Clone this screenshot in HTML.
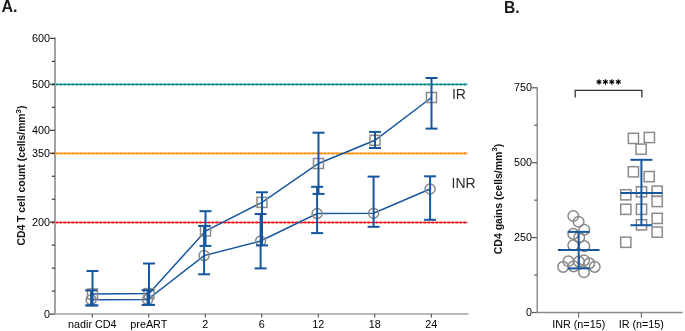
<!DOCTYPE html>
<html><head><meta charset="utf-8"><style>
html,body{margin:0;padding:0;background:#fff;}
svg{display:block;font-family:"Liberation Sans", sans-serif;will-change:transform;}
</style></head><body>
<svg width="685" height="331" viewBox="0 0 685 331">
<rect width="685" height="331" fill="#fff"/>
<text x="1.5" y="11.9" font-size="16.1" font-weight="bold" fill="#1a1a1a">A.</text>
<text x="504" y="12.5" font-size="15.7" font-weight="bold" fill="#1a1a1a">B.</text>
<line x1="52" y1="84.40" x2="467.5" y2="84.40" stroke="#139090" stroke-width="1.2"/>
<line x1="52" y1="84.40" x2="467.5" y2="84.40" stroke="#139090" stroke-width="2" stroke-dasharray="2.6 1.4" stroke-dashoffset="0.5"/>
<line x1="52" y1="153.40" x2="467.5" y2="153.40" stroke="#f7900f" stroke-width="1.2"/>
<line x1="52" y1="153.40" x2="467.5" y2="153.40" stroke="#f7900f" stroke-width="2" stroke-dasharray="2.6 1.4" stroke-dashoffset="0.5"/>
<line x1="52" y1="222.50" x2="467.5" y2="222.50" stroke="#f2191d" stroke-width="1.2"/>
<line x1="52" y1="222.50" x2="467.5" y2="222.50" stroke="#f2191d" stroke-width="2" stroke-dasharray="2.6 1.4" stroke-dashoffset="0.5"/>
<line x1="55" y1="37.6" x2="55" y2="314.8" stroke="#a3a3a3" stroke-width="2"/>
<line x1="50" y1="314.10" x2="55" y2="314.10" stroke="#3a3a3a" stroke-width="1.2"/>
<line x1="51.8" y1="291.12" x2="55" y2="291.12" stroke="#3a3a3a" stroke-width="1.2"/>
<line x1="51.8" y1="268.15" x2="55" y2="268.15" stroke="#3a3a3a" stroke-width="1.2"/>
<line x1="51.8" y1="245.18" x2="55" y2="245.18" stroke="#3a3a3a" stroke-width="1.2"/>
<line x1="50" y1="222.20" x2="55" y2="222.20" stroke="#3a3a3a" stroke-width="1.2"/>
<line x1="51.8" y1="199.23" x2="55" y2="199.23" stroke="#3a3a3a" stroke-width="1.2"/>
<line x1="51.8" y1="176.25" x2="55" y2="176.25" stroke="#3a3a3a" stroke-width="1.2"/>
<line x1="50" y1="153.28" x2="55" y2="153.28" stroke="#3a3a3a" stroke-width="1.2"/>
<line x1="50" y1="130.30" x2="55" y2="130.30" stroke="#3a3a3a" stroke-width="1.2"/>
<line x1="51.8" y1="107.33" x2="55" y2="107.33" stroke="#3a3a3a" stroke-width="1.2"/>
<line x1="50" y1="84.35" x2="55" y2="84.35" stroke="#3a3a3a" stroke-width="1.2"/>
<line x1="51.8" y1="61.38" x2="55" y2="61.38" stroke="#3a3a3a" stroke-width="1.2"/>
<line x1="50" y1="38.40" x2="55" y2="38.40" stroke="#3a3a3a" stroke-width="1.2"/>
<text x="49.9" y="318.00" font-size="10.8" text-anchor="end" fill="#000">0</text>
<text x="49.9" y="226.10" font-size="10.8" text-anchor="end" fill="#000">200</text>
<text x="49.9" y="157.18" font-size="10.8" text-anchor="end" fill="#000">350</text>
<text x="49.9" y="134.20" font-size="10.8" text-anchor="end" fill="#000">400</text>
<text x="49.9" y="88.25" font-size="10.8" text-anchor="end" fill="#000">500</text>
<text x="49.9" y="42.30" font-size="10.8" text-anchor="end" fill="#000">600</text>
<line x1="54" y1="314" x2="468.5" y2="314" stroke="#a3a3a3" stroke-width="1.6"/>
<line x1="92.30" y1="314" x2="92.30" y2="317.5" stroke="#3a3a3a" stroke-width="1"/>
<text x="92.30" y="328" font-size="10.8" text-anchor="middle" fill="#000">nadir CD4</text>
<line x1="148.80" y1="314" x2="148.80" y2="317.5" stroke="#3a3a3a" stroke-width="1"/>
<text x="148.80" y="328" font-size="10.8" text-anchor="middle" fill="#000">preART</text>
<line x1="205.30" y1="314" x2="205.30" y2="317.5" stroke="#3a3a3a" stroke-width="1"/>
<text x="205.30" y="328" font-size="10.8" text-anchor="middle" fill="#000">2</text>
<line x1="261.80" y1="314" x2="261.80" y2="317.5" stroke="#3a3a3a" stroke-width="1"/>
<text x="261.80" y="328" font-size="10.8" text-anchor="middle" fill="#000">6</text>
<line x1="318.30" y1="314" x2="318.30" y2="317.5" stroke="#3a3a3a" stroke-width="1"/>
<text x="318.30" y="328" font-size="10.8" text-anchor="middle" fill="#000">12</text>
<line x1="374.80" y1="314" x2="374.80" y2="317.5" stroke="#3a3a3a" stroke-width="1"/>
<text x="374.80" y="328" font-size="10.8" text-anchor="middle" fill="#000">18</text>
<line x1="431.30" y1="314" x2="431.30" y2="317.5" stroke="#3a3a3a" stroke-width="1"/>
<text x="431.30" y="328" font-size="10.8" text-anchor="middle" fill="#000">24</text>
<text transform="translate(25.3,175.6) rotate(-90)" font-size="10.4" font-weight="bold" text-anchor="middle" fill="#111">CD4 T cell count (cells/mm<tspan dy="-4.2" font-size="7.8">3</tspan><tspan dy="4.2">)</tspan></text>
<polyline points="92.5,294.0 149.0,293.6 205.5,231.0 262.0,202.4 318.5,163.5 375.0,140.3 431.5,97.5" fill="none" stroke="#17569c" stroke-width="1.5"/>
<polyline points="91.1,299.8 147.6,299.5 204.1,255.6 260.6,241.0 317.1,213.6 373.6,213.3 430.1,189.0" fill="none" stroke="#17569c" stroke-width="1.5"/>
<rect x="87.50" y="289.00" width="10" height="10" fill="none" stroke="#8a8a8a" stroke-width="1.5"/>
<rect x="144.00" y="288.60" width="10" height="10" fill="none" stroke="#8a8a8a" stroke-width="1.5"/>
<rect x="200.50" y="226.00" width="10" height="10" fill="none" stroke="#8a8a8a" stroke-width="1.5"/>
<rect x="257.00" y="197.40" width="10" height="10" fill="none" stroke="#8a8a8a" stroke-width="1.5"/>
<rect x="313.50" y="158.50" width="10" height="10" fill="none" stroke="#8a8a8a" stroke-width="1.5"/>
<rect x="370.00" y="135.30" width="10" height="10" fill="none" stroke="#8a8a8a" stroke-width="1.5"/>
<rect x="426.50" y="92.50" width="10" height="10" fill="none" stroke="#8a8a8a" stroke-width="1.5"/>
<circle cx="91.10" cy="299.80" r="5" fill="none" stroke="#8a8a8a" stroke-width="1.5"/>
<circle cx="147.60" cy="299.50" r="5" fill="none" stroke="#8a8a8a" stroke-width="1.5"/>
<circle cx="204.10" cy="255.60" r="5" fill="none" stroke="#8a8a8a" stroke-width="1.5"/>
<circle cx="260.60" cy="241.00" r="5" fill="none" stroke="#8a8a8a" stroke-width="1.5"/>
<circle cx="317.10" cy="213.60" r="5" fill="none" stroke="#8a8a8a" stroke-width="1.5"/>
<circle cx="373.60" cy="213.30" r="5" fill="none" stroke="#8a8a8a" stroke-width="1.5"/>
<circle cx="430.10" cy="189.00" r="5" fill="none" stroke="#8a8a8a" stroke-width="1.5"/>
<line x1="92.50" y1="271.00" x2="92.50" y2="305.40" stroke="#17569c" stroke-width="2"/>
<line x1="86.50" y1="271.00" x2="98.50" y2="271.00" stroke="#17569c" stroke-width="2"/>
<line x1="86.50" y1="305.40" x2="98.50" y2="305.40" stroke="#17569c" stroke-width="2"/>
<line x1="149.00" y1="263.50" x2="149.00" y2="304.90" stroke="#17569c" stroke-width="2"/>
<line x1="143.00" y1="263.50" x2="155.00" y2="263.50" stroke="#17569c" stroke-width="2"/>
<line x1="143.00" y1="304.90" x2="155.00" y2="304.90" stroke="#17569c" stroke-width="2"/>
<line x1="205.50" y1="211.20" x2="205.50" y2="245.90" stroke="#17569c" stroke-width="2"/>
<line x1="199.50" y1="211.20" x2="211.50" y2="211.20" stroke="#17569c" stroke-width="2"/>
<line x1="199.50" y1="245.90" x2="211.50" y2="245.90" stroke="#17569c" stroke-width="2"/>
<line x1="262.00" y1="192.30" x2="262.00" y2="245.40" stroke="#17569c" stroke-width="2"/>
<line x1="256.00" y1="192.30" x2="268.00" y2="192.30" stroke="#17569c" stroke-width="2"/>
<line x1="256.00" y1="245.40" x2="268.00" y2="245.40" stroke="#17569c" stroke-width="2"/>
<line x1="318.50" y1="132.70" x2="318.50" y2="193.90" stroke="#17569c" stroke-width="2"/>
<line x1="312.50" y1="132.70" x2="324.50" y2="132.70" stroke="#17569c" stroke-width="2"/>
<line x1="312.50" y1="193.90" x2="324.50" y2="193.90" stroke="#17569c" stroke-width="2"/>
<line x1="375.00" y1="131.90" x2="375.00" y2="148.00" stroke="#17569c" stroke-width="2"/>
<line x1="369.00" y1="131.90" x2="381.00" y2="131.90" stroke="#17569c" stroke-width="2"/>
<line x1="369.00" y1="148.00" x2="381.00" y2="148.00" stroke="#17569c" stroke-width="2"/>
<line x1="431.50" y1="78.00" x2="431.50" y2="128.60" stroke="#17569c" stroke-width="2"/>
<line x1="425.50" y1="78.00" x2="437.50" y2="78.00" stroke="#17569c" stroke-width="2"/>
<line x1="425.50" y1="128.60" x2="437.50" y2="128.60" stroke="#17569c" stroke-width="2"/>
<line x1="91.10" y1="290.40" x2="91.10" y2="305.40" stroke="#17569c" stroke-width="2"/>
<line x1="85.10" y1="290.40" x2="97.10" y2="290.40" stroke="#17569c" stroke-width="2"/>
<line x1="85.10" y1="305.40" x2="97.10" y2="305.40" stroke="#17569c" stroke-width="2"/>
<line x1="147.60" y1="290.20" x2="147.60" y2="304.90" stroke="#17569c" stroke-width="2"/>
<line x1="141.60" y1="290.20" x2="153.60" y2="290.20" stroke="#17569c" stroke-width="2"/>
<line x1="141.60" y1="304.90" x2="153.60" y2="304.90" stroke="#17569c" stroke-width="2"/>
<line x1="204.10" y1="225.90" x2="204.10" y2="274.30" stroke="#17569c" stroke-width="2"/>
<line x1="198.10" y1="225.90" x2="210.10" y2="225.90" stroke="#17569c" stroke-width="2"/>
<line x1="198.10" y1="274.30" x2="210.10" y2="274.30" stroke="#17569c" stroke-width="2"/>
<line x1="260.60" y1="214.00" x2="260.60" y2="268.40" stroke="#17569c" stroke-width="2"/>
<line x1="254.60" y1="214.00" x2="266.60" y2="214.00" stroke="#17569c" stroke-width="2"/>
<line x1="254.60" y1="268.40" x2="266.60" y2="268.40" stroke="#17569c" stroke-width="2"/>
<line x1="317.10" y1="186.80" x2="317.10" y2="233.10" stroke="#17569c" stroke-width="2"/>
<line x1="311.10" y1="186.80" x2="323.10" y2="186.80" stroke="#17569c" stroke-width="2"/>
<line x1="311.10" y1="233.10" x2="323.10" y2="233.10" stroke="#17569c" stroke-width="2"/>
<line x1="373.60" y1="176.60" x2="373.60" y2="226.80" stroke="#17569c" stroke-width="2"/>
<line x1="367.60" y1="176.60" x2="379.60" y2="176.60" stroke="#17569c" stroke-width="2"/>
<line x1="367.60" y1="226.80" x2="379.60" y2="226.80" stroke="#17569c" stroke-width="2"/>
<line x1="430.10" y1="176.30" x2="430.10" y2="219.80" stroke="#17569c" stroke-width="2"/>
<line x1="424.10" y1="176.30" x2="436.10" y2="176.30" stroke="#17569c" stroke-width="2"/>
<line x1="424.10" y1="219.80" x2="436.10" y2="219.80" stroke="#17569c" stroke-width="2"/>
<text x="451.9" y="99.2" font-size="14" fill="#2a2a2a">IR</text>
<text x="451.5" y="187.6" font-size="14" fill="#2a2a2a">INR</text>
<line x1="537.2" y1="87.2" x2="537.2" y2="313" stroke="#8a8a8a" stroke-width="1.4"/>
<line x1="532" y1="312.50" x2="537" y2="312.50" stroke="#555" stroke-width="1.2"/>
<line x1="534.2" y1="275.05" x2="537" y2="275.05" stroke="#555" stroke-width="1.2"/>
<line x1="532" y1="237.60" x2="537" y2="237.60" stroke="#555" stroke-width="1.2"/>
<line x1="534.2" y1="200.15" x2="537" y2="200.15" stroke="#555" stroke-width="1.2"/>
<line x1="532" y1="162.70" x2="537" y2="162.70" stroke="#555" stroke-width="1.2"/>
<line x1="534.2" y1="125.25" x2="537" y2="125.25" stroke="#555" stroke-width="1.2"/>
<line x1="532" y1="87.80" x2="537" y2="87.80" stroke="#555" stroke-width="1.2"/>
<text x="531.9" y="315.90" font-size="10.8" text-anchor="end" fill="#000">0</text>
<text x="531.9" y="241.00" font-size="10.8" text-anchor="end" fill="#000">250</text>
<text x="531.9" y="166.10" font-size="10.8" text-anchor="end" fill="#000">500</text>
<text x="531.9" y="91.20" font-size="10.8" text-anchor="end" fill="#000">750</text>
<line x1="536.6" y1="312.5" x2="682.7" y2="312.5" stroke="#8a8a8a" stroke-width="1.4"/>
<line x1="578.7" y1="312.5" x2="578.7" y2="317.6" stroke="#555" stroke-width="1"/>
<text x="578.7" y="327.5" font-size="10.8" text-anchor="middle" fill="#000">INR (n=15)</text>
<line x1="641.3" y1="312.5" x2="641.3" y2="317.6" stroke="#555" stroke-width="1"/>
<text x="641.3" y="327.5" font-size="10.8" text-anchor="middle" fill="#000">IR (n=15)</text>
<text transform="translate(501.6,199) rotate(-90)" font-size="10.5" font-weight="bold" text-anchor="middle" fill="#111">CD4 gains (cells/mm<tspan dy="-4.2" font-size="7.8">3</tspan><tspan dy="4.2">)</tspan></text>
<polyline points="575.2,97.5 575.2,90.4 641.9,90.4 641.9,97.5" fill="none" stroke="#333" stroke-width="1.3"/>
<path d="M599.00,79.15L599.00,84.65M596.62,80.53L601.38,83.28M596.62,83.28L601.38,80.53" stroke="#000" stroke-width="1.15" stroke-linecap="butt"/>
<circle cx="599.0" cy="81.9" r="1.25" fill="#000"/>
<path d="M605.40,79.15L605.40,84.65M603.02,80.53L607.78,83.28M603.02,83.28L607.78,80.53" stroke="#000" stroke-width="1.15" stroke-linecap="butt"/>
<circle cx="605.4" cy="81.9" r="1.25" fill="#000"/>
<path d="M611.80,79.15L611.80,84.65M609.42,80.53L614.18,83.28M609.42,83.28L614.18,80.53" stroke="#000" stroke-width="1.15" stroke-linecap="butt"/>
<circle cx="611.8" cy="81.9" r="1.25" fill="#000"/>
<path d="M618.30,79.15L618.30,84.65M615.92,80.53L620.68,83.28M615.92,83.28L620.68,80.53" stroke="#000" stroke-width="1.15" stroke-linecap="butt"/>
<circle cx="618.3" cy="81.9" r="1.25" fill="#000"/>
<circle cx="573.3" cy="216.0" r="5.3" fill="none" stroke="#8a8a8a" stroke-width="1.5"/>
<circle cx="578.6" cy="221.8" r="5.3" fill="none" stroke="#8a8a8a" stroke-width="1.5"/>
<circle cx="584.3" cy="229.8" r="5.3" fill="none" stroke="#8a8a8a" stroke-width="1.5"/>
<circle cx="573.3" cy="233.9" r="5.3" fill="none" stroke="#8a8a8a" stroke-width="1.5"/>
<circle cx="579.2" cy="237.5" r="5.3" fill="none" stroke="#8a8a8a" stroke-width="1.5"/>
<circle cx="573.3" cy="245.2" r="5.3" fill="none" stroke="#8a8a8a" stroke-width="1.5"/>
<circle cx="584.3" cy="246.1" r="5.3" fill="none" stroke="#8a8a8a" stroke-width="1.5"/>
<circle cx="563.1" cy="266.9" r="5.3" fill="none" stroke="#8a8a8a" stroke-width="1.5"/>
<circle cx="568.4" cy="261.3" r="5.3" fill="none" stroke="#8a8a8a" stroke-width="1.5"/>
<circle cx="573.6" cy="266.4" r="5.3" fill="none" stroke="#8a8a8a" stroke-width="1.5"/>
<circle cx="578.9" cy="261.6" r="5.3" fill="none" stroke="#8a8a8a" stroke-width="1.5"/>
<circle cx="584.0" cy="260.4" r="5.3" fill="none" stroke="#8a8a8a" stroke-width="1.5"/>
<circle cx="589.3" cy="263.4" r="5.3" fill="none" stroke="#8a8a8a" stroke-width="1.5"/>
<circle cx="594.7" cy="266.9" r="5.3" fill="none" stroke="#8a8a8a" stroke-width="1.5"/>
<circle cx="584.0" cy="272.2" r="5.3" fill="none" stroke="#8a8a8a" stroke-width="1.5"/>
<rect x="628.30" y="133.30" width="10.2" height="10.2" fill="none" stroke="#8a8a8a" stroke-width="1.5"/>
<rect x="644.30" y="132.40" width="10.2" height="10.2" fill="none" stroke="#8a8a8a" stroke-width="1.5"/>
<rect x="636.00" y="144.10" width="10.2" height="10.2" fill="none" stroke="#8a8a8a" stroke-width="1.5"/>
<rect x="628.30" y="166.70" width="10.2" height="10.2" fill="none" stroke="#8a8a8a" stroke-width="1.5"/>
<rect x="644.10" y="171.50" width="10.2" height="10.2" fill="none" stroke="#8a8a8a" stroke-width="1.5"/>
<rect x="620.70" y="189.70" width="10.2" height="10.2" fill="none" stroke="#8a8a8a" stroke-width="1.5"/>
<rect x="636.40" y="186.70" width="10.2" height="10.2" fill="none" stroke="#8a8a8a" stroke-width="1.5"/>
<rect x="652.10" y="186.10" width="10.2" height="10.2" fill="none" stroke="#8a8a8a" stroke-width="1.5"/>
<rect x="652.10" y="196.40" width="10.2" height="10.2" fill="none" stroke="#8a8a8a" stroke-width="1.5"/>
<rect x="620.70" y="204.20" width="10.2" height="10.2" fill="none" stroke="#8a8a8a" stroke-width="1.5"/>
<rect x="636.40" y="204.20" width="10.2" height="10.2" fill="none" stroke="#8a8a8a" stroke-width="1.5"/>
<rect x="652.10" y="213.30" width="10.2" height="10.2" fill="none" stroke="#8a8a8a" stroke-width="1.5"/>
<rect x="636.40" y="219.70" width="10.2" height="10.2" fill="none" stroke="#8a8a8a" stroke-width="1.5"/>
<rect x="652.10" y="227.00" width="10.2" height="10.2" fill="none" stroke="#8a8a8a" stroke-width="1.5"/>
<rect x="620.70" y="237.20" width="10.2" height="10.2" fill="none" stroke="#8a8a8a" stroke-width="1.5"/>
<line x1="578.7" y1="231.9" x2="578.7" y2="268.4" stroke="#17569c" stroke-width="2"/>
<line x1="557.90" y1="250.0" x2="599.50" y2="250.0" stroke="#17569c" stroke-width="2"/>
<line x1="567.70" y1="268.4" x2="589.70" y2="268.4" stroke="#17569c" stroke-width="2"/>
<line x1="567.70" y1="231.9" x2="589.70" y2="231.9" stroke="#17569c" stroke-width="2"/>
<line x1="641.4" y1="159.8" x2="641.4" y2="225.2" stroke="#17569c" stroke-width="2"/>
<line x1="620.60" y1="193.0" x2="662.20" y2="193.0" stroke="#17569c" stroke-width="2"/>
<line x1="630.40" y1="225.2" x2="652.40" y2="225.2" stroke="#17569c" stroke-width="2"/>
<line x1="630.40" y1="159.8" x2="652.40" y2="159.8" stroke="#17569c" stroke-width="2"/>
</svg>
</body></html>
